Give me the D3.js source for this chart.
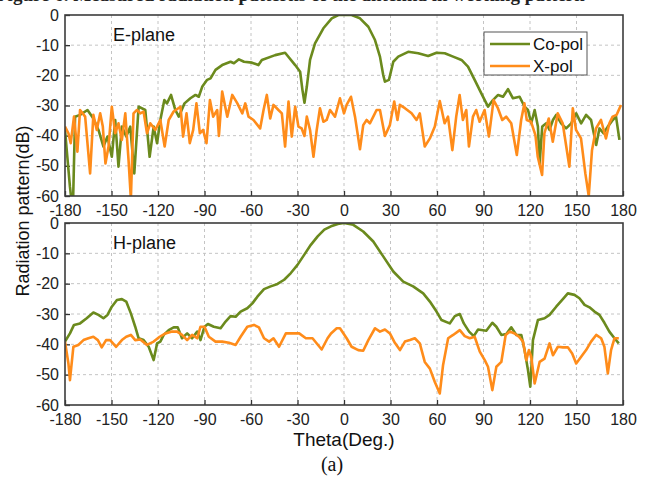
<!DOCTYPE html>
<html lang="en">
<head>
<meta charset="UTF-8">
<title>Radiation pattern</title>
<script src="https://cdn.jsdelivr.net/npm/d3@7"></script>
<style>
	html,body{margin:0;padding:0;background:#fff;}
	svg{display:block;font-family:"Liberation Sans",Arial,sans-serif;}
	.grid line{stroke:#c4c4c4;stroke-dasharray:3,3;stroke-width:1;}
	.axis text{font-size:16px;fill:#222;}
	.axis line{stroke:#333;stroke-width:1.3;}
	.axis path{display:none;}
	.frame{fill:none;stroke:#3c3c3c;stroke-width:1.6;}
	.co{fill:none;stroke:#6b8a1d;stroke-width:2.6;stroke-linejoin:round;}
	.xp{fill:none;stroke:#ff8c1a;stroke-width:2.6;stroke-linejoin:round;}
</style>
</head>
<body>
<svg id="svg" width="652" height="478"></svg>
<script>
// tick values
var thetaTicks = [-180,-150,-120,-90,-60,-30,0,30,60,90,120,150,180];
var dbTicks = [0,-10,-20,-30,-40,-50,-60];
var panelNames = ["E-plane","H-plane"];
var seriesNames = ["Co-pol","X-pol"];

// E-plane, [theta, dB]
var eCo = [[-180,-38.1],[-178.5,-47],[-176.8,-57],[-175.7,-62],[-174.8,-62],[-173.5,-33.7],[-170.3,-33.1],[-165.5,-31.5],[-161.7,-34.3],[-158.4,-38.1],[-155.2,-43.6],[-152.6,-40.3],[-149.8,-47],[-147.6,-34.8],[-145.5,-50.3],[-143.3,-37],[-140.5,-40.3],[-137.9,-37],[-135.3,-52.5],[-132.5,-30.4],[-128.2,-31.5],[-125.4,-47],[-122.8,-37],[-120.6,-42.5],[-118.5,-34.8],[-115.9,-28.2],[-114.2,-29.3],[-111.6,-26.5],[-108.8,-31.5],[-106.6,-33.7],[-102.9,-29.3],[-99.1,-27.6],[-95.8,-26.5],[-93.7,-27.1],[-91.5,-23.8],[-88.3,-21.5],[-86.1,-21],[-82.9,-18.2],[-78.6,-16.6],[-73.2,-15.5],[-71,-16],[-67.8,-14.7],[-64.5,-15.5],[-59.4,-15.8],[-55.2,-16.6],[-53,-14.9],[-44.4,-13.3],[-38,-12.5],[-31.5,-16.6],[-28.3,-18.8],[-26.8,-24.9],[-25.5,-29.1],[-24,-23.8],[-21.9,-14.9],[-18.7,-9.4],[-13.3,-4.4],[-7.9,-1.1],[-3.6,0],[4.9,0],[10.3,-1.1],[15.7,-3.9],[20,-8.3],[23.2,-13.8],[25.3,-19.9],[26.4,-22.1],[29,-21.5],[31.8,-15.5],[35,-13.8],[41.4,-12.2],[47.9,-12.7],[54.3,-13.6],[59.7,-12.5],[65,-12.7],[70.4,-13.8],[75.8,-14.9],[80,-17.1],[84.3,-21.5],[88.6,-26],[92.9,-30.4],[96.1,-28.2],[99.4,-26.5],[102.6,-27.1],[105.8,-24.6],[109,-27.6],[113.3,-27.1],[116.5,-30.4],[118.7,-31.5],[120.8,-35.9],[123,-31.5],[125.1,-37],[126.2,-49.2],[127.9,-37],[130.5,-35.9],[132.6,-38.1],[134.8,-34.8],[136.9,-33.1],[140.1,-35.9],[143.3,-37.6],[146.6,-35.9],[149.8,-32.6],[153,-35.9],[156.2,-33.1],[159.4,-34.8],[162.7,-43.1],[164.8,-37.6],[167.4,-39.2],[170.2,-37],[173.4,-34.8],[175.5,-33.7],[177.7,-41.4]];
var eXp = [[-180,-37],[-177.8,-39.2],[-176.3,-42.5],[-174.2,-33.7],[-172,-45.3],[-170.3,-31.5],[-167,-33.7],[-163.8,-52.5],[-161.7,-33.1],[-159.5,-38.1],[-157.3,-32.6],[-155.6,-37],[-153.9,-49.2],[-151.9,-43.6],[-149.8,-30.4],[-147.6,-39.2],[-145.5,-35.9],[-143.3,-41.4],[-141.1,-32.6],[-139,-48.1],[-137.5,-61],[-135.8,-32.6],[-133.6,-31.5],[-131.4,-32.6],[-129.3,-32],[-127.1,-39.2],[-125,-35.9],[-121.7,-38.1],[-118.5,-34.8],[-115.7,-43.6],[-113.1,-34.8],[-109.9,-32],[-105.5,-30.4],[-103.8,-40.3],[-101.6,-32.6],[-99.5,-42.5],[-97.3,-38.1],[-95.2,-29.3],[-93,-39.2],[-90.9,-38.1],[-88.7,-42.5],[-86.5,-28.2],[-84.4,-33.7],[-81.8,-31.5],[-80.7,-40.1],[-78.6,-25.4],[-75.3,-33.7],[-72.1,-26.5],[-68.8,-29.3],[-65.6,-32.6],[-63.7,-29.3],[-61.6,-33.7],[-58.4,-34.8],[-54.1,-37.6],[-51.9,-31.5],[-49.8,-26.5],[-47.6,-34.3],[-45.5,-29.8],[-42.3,-31.5],[-40.1,-32.6],[-38,-43.6],[-35.8,-28.7],[-33.7,-40.3],[-31.5,-30.4],[-29.4,-37],[-27.3,-37.6],[-25.5,-40.1],[-24,-33.7],[-21.9,-38.1],[-19.7,-47],[-17.6,-38.1],[-15.5,-30.9],[-13.3,-35.4],[-11.2,-34.8],[-9,-31.5],[-5.8,-33.7],[-2.6,-27.6],[0,-32.6],[1.7,-29.8],[4.5,-27.1],[7.1,-33.7],[10.3,-44.5],[12.4,-36.5],[14.6,-34.8],[16.7,-35.9],[18.9,-33.7],[21,-31.5],[23.2,-31.5],[26.4,-40.1],[29.6,-36.5],[32.4,-28.7],[34.5,-34.8],[36,-29.8],[39.3,-30.9],[43.6,-32.6],[46.8,-34.8],[48.9,-32.6],[52.1,-43.6],[55.4,-40.9],[58.6,-37],[61.8,-28.5],[64.9,-35.9],[67.1,-33.7],[69.9,-44.8],[72.4,-33.7],[74.6,-26.5],[76.7,-34.8],[78.9,-31.5],[80.6,-43.6],[83.2,-33.7],[85.3,-31.5],[87.5,-35.4],[90.7,-31.5],[93.5,-40.3],[96.5,-28.2],[99.3,-30.9],[102.1,-34.8],[104.6,-33.7],[107.9,-35.9],[111.5,-46.4],[114.3,-34.8],[116.4,-29.3],[117.9,-34.8],[120.7,-35.4],[123.5,-39.8],[125,-47],[127.8,-53],[129.3,-39.2],[132.1,-34.3],[134.7,-42],[137.9,-32.6],[141.1,-35.9],[145.4,-50.3],[147.6,-30.9],[149.7,-38.1],[152.9,-40.9],[155.7,-52.5],[157.9,-60],[160,-44.8],[162.6,-37.6],[165.8,-34.8],[169,-40.9],[171.2,-35.9],[173.3,-33.7],[175.9,-33.1],[178.7,-29.8]];

// H-plane, [theta, dB]
var hCo = [[-180,-39.1],[-176.8,-36.4],[-174.2,-33.6],[-170.3,-33.1],[-166,-31.4],[-161.7,-29.5],[-158.4,-30.3],[-155.2,-31.4],[-152.6,-30.3],[-149.8,-27.6],[-146.5,-25.4],[-143.3,-25.1],[-140.5,-25.9],[-137.5,-29.8],[-134.7,-34.2],[-132.5,-38],[-129.3,-38.6],[-126,-40.8],[-122.8,-45.2],[-120.6,-39.7],[-118.5,-39.1],[-116.3,-36.9],[-113.1,-35.3],[-109.9,-34.4],[-107.3,-34.4],[-104.5,-38],[-101.2,-36.4],[-98,-38],[-94.7,-35.8],[-92.6,-38.6],[-90,-34.2],[-87.8,-33.3],[-84,-34.2],[-79.6,-34.7],[-76.4,-32.5],[-73.2,-30.7],[-69.9,-30.9],[-66.7,-29.2],[-62.4,-28.1],[-59.1,-26.5],[-55.9,-24.3],[-51.6,-21.8],[-47.3,-20.9],[-42.9,-20.1],[-38.6,-18.7],[-34.3,-16.5],[-30,-13.8],[-25.7,-10.5],[-21.4,-7.2],[-17,-4.4],[-12.7,-2.2],[-8.4,-1.1],[-4,-0.3],[0,0],[6,-0.6],[12.4,-2.8],[18.9,-6.1],[25.3,-11],[31.8,-16],[38.2,-19.3],[44.6,-20.9],[51.1,-23.2],[55.4,-25.9],[59.7,-29.2],[62.9,-32],[68.2,-33.1],[71.5,-30.7],[74.7,-30],[77.3,-33.1],[80.7,-35.8],[83.7,-37.3],[86.5,-35.1],[91.8,-35.5],[95.7,-32.9],[98.3,-34.2],[101.5,-36.9],[104.7,-36.6],[107.9,-34.4],[111.2,-36.9],[114.4,-36.9],[116.5,-41.9],[118.7,-48.5],[120.2,-54],[121.9,-38.6],[125.1,-32],[129.4,-31.4],[132.6,-30.3],[136.9,-27.6],[141.2,-25.1],[144.4,-23.2],[148.7,-23.7],[151.9,-24.8],[155.2,-27],[158.4,-27.8],[161.6,-29.2],[164.8,-30.3],[168,-32.9],[171.2,-35.8],[174.5,-38],[177.3,-39.7]];
var hXp = [[-180,-39.1],[-177.8,-46.3],[-176.8,-51.8],[-174.6,-40.8],[-171.4,-40.2],[-168.1,-38.6],[-164.9,-38],[-161.7,-37.5],[-158.8,-38.6],[-156.3,-41],[-153.5,-38.6],[-150.9,-38.6],[-147,-40.8],[-143.3,-38.6],[-140.5,-37.5],[-137.5,-36.9],[-134.7,-38.6],[-131.4,-38.4],[-127.1,-40.2],[-122.8,-39.1],[-118.9,-37.5],[-115.2,-36.4],[-110.9,-35.8],[-107.7,-35.8],[-104.5,-36.9],[-101.2,-38.6],[-98,-36.9],[-94.7,-38],[-92.6,-34.2],[-90,-34.2],[-87.2,-37.5],[-82.9,-39.1],[-78.6,-39.1],[-74.2,-39.5],[-69.9,-40.2],[-66.7,-37.5],[-62.4,-34.2],[-58.1,-33.6],[-54.9,-34.4],[-51.6,-38],[-48.3,-39.1],[-45.5,-38],[-41.9,-40.8],[-37.5,-36.4],[-33.2,-36.4],[-28.9,-36.4],[-24.6,-38],[-20.3,-38],[-14.4,-41.7],[-10.6,-38],[-8.4,-36.4],[-4.7,-34.7],[-2.6,-34.7],[1.7,-38],[4.9,-40.8],[9.2,-41.9],[12.4,-42.1],[15.7,-38.6],[20,-34.7],[23.2,-35.8],[26.4,-35.1],[29.6,-36.4],[32.8,-39.5],[36.1,-41.9],[39.3,-39.1],[42.5,-38.6],[45.7,-38],[48.9,-39.7],[52.1,-45.8],[55.4,-48],[58.6,-52.4],[61.8,-56.2],[63.9,-46.9],[67.2,-38],[70.4,-36.9],[74.7,-35.3],[77.9,-37.3],[81.1,-38],[84.3,-37.5],[87.6,-42.4],[90.8,-45.2],[92.9,-47.4],[95.7,-55.1],[98.3,-47.4],[101.5,-45.8],[104.3,-36.9],[106.9,-35.8],[110.1,-36.4],[112.9,-37.5],[115.5,-39.1],[117.6,-45.2],[119.3,-41.9],[120.8,-44.1],[123,-52.9],[124.5,-49.6],[126.2,-45.8],[129.4,-44.7],[132.6,-39.7],[134.8,-43.6],[138,-40.8],[141.2,-41],[144.4,-41],[147.2,-43],[149.8,-46.3],[153,-44.1],[156.2,-41.9],[159.4,-39.1],[162.7,-36.9],[165.9,-38],[168,-40.8],[170.2,-49.6],[172.3,-41.9],[174.5,-38],[177.3,-38]];

var svg = d3.select("#svg");
var left = 65, right = 623;
var panels = [
	{name:panelNames[0], top:15, bottom:196, co:eCo, xp:eXp},
	{name:panelNames[1], top:223, bottom:405, co:hCo, xp:hXp}
];

var x = d3.scaleLinear().domain([-180,180]).range([left,right]);
var plain = d=>String(d); // hyphen minus, as in the original

// caption line above the figure, mostly cut off by the top edge
svg.append("text")
	.attr("x",-4).attr("y",1)
	.style("font-family","'Liberation Serif','Times New Roman',serif")
	.style("font-weight","bold").style("font-size","19px").style("fill","#222")
	.text("Figure 6. Measured radiation patterns of the antenna in working pattern");

panels.forEach(function(p,i){
	var y = d3.scaleLinear().domain([-60,0]).range([p.bottom,p.top]);
	var g = svg.append("g");

	g.append("clipPath").attr("id","clip"+i)
		.append("rect").attr("x",left).attr("y",p.top)
		.attr("width",right-left).attr("height",p.bottom-p.top);

	// dashed grid
	var grid = g.append("g").attr("class","grid");
	grid.selectAll(".gx").data(thetaTicks.slice(1,-1)).enter().append("line")
		.attr("x1",d=>x(d)).attr("x2",d=>x(d)).attr("y1",p.top).attr("y2",p.bottom);
	grid.selectAll(".gy").data(dbTicks.slice(1,-1)).enter().append("line")
		.attr("x1",left).attr("x2",right).attr("y1",d=>y(d)).attr("y2",d=>y(d));

	// axes, ticks point inward
	g.append("g").attr("class","axis")
		.attr("transform","translate(0,"+p.bottom+")")
		.call(d3.axisBottom(x).tickValues(thetaTicks).tickFormat(plain).tickSize(-5).tickPadding(9));
	g.append("g").attr("class","axis")
		.attr("transform","translate("+left+",0)")
		.call(d3.axisLeft(y).tickValues(dbTicks).tickFormat(plain).tickSize(-5).tickPadding(6));

	var line = d3.line().x(d=>x(d[0])).y(d=>y(d[1]));
	var plot = g.append("g").attr("clip-path","url(#clip"+i+")");
	plot.append("path").datum(p.co).attr("class","co").attr("d",line);
	plot.append("path").datum(p.xp).attr("class","xp").attr("d",line);

	g.append("rect").attr("class","frame")
		.attr("x",left).attr("y",p.top).attr("width",right-left).attr("height",p.bottom-p.top);

	g.append("text").attr("x",113).attr("y",p.top+26)
		.style("font-size","18px").style("fill","#111").text(p.name);
});

// legend
var lg = svg.append("g").attr("transform","translate(484,32)");
lg.append("rect").attr("width",103).attr("height",43)
	.attr("fill","#fff").attr("stroke","#555").attr("stroke-width",1);
seriesNames.forEach(function(s,i){
	var yy = 12 + i*22;
	lg.append("line").attr("x1",6).attr("x2",46).attr("y1",yy).attr("y2",yy)
		.attr("class",i==0?"co":"xp");
	lg.append("text").attr("x",49).attr("y",yy+6)
		.style("font-size","17px").style("fill","#111").text(s);
});

// axis titles
svg.append("text")
	.attr("transform","translate(29,211) rotate(-90)")
	.attr("text-anchor","middle")
	.style("font-size","18px").style("fill","#111")
	.text("Radiation pattern(dB)");
svg.append("text")
	.attr("x",344).attr("y",446).attr("text-anchor","middle")
	.style("font-size","19px").style("fill","#111")
	.text("Theta(Deg.)");
svg.append("text")
	.attr("x",332).attr("y",471).attr("text-anchor","middle")
	.style("font-family","'Liberation Serif','Times New Roman',serif")
	.style("font-size","20px").style("fill","#111")
	.text("(a)");
</script>
</body>
</html>
